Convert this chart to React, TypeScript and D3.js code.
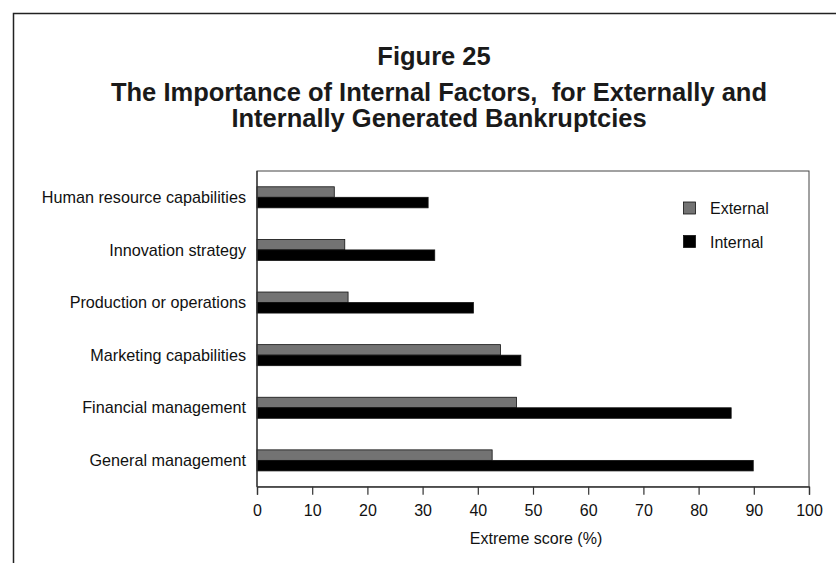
import React, { useEffect, useRef } from "react";
import * as d3 from "d3";

const categories = [
  "Human resource capabilities",
  "Innovation strategy",
  "Production or operations",
  "Marketing capabilities",
  "Financial management",
  "General management",
];
const externalValues = [14.0, 15.9, 16.5, 44.1, 47.0, 42.6];
const internalValues = [31.0, 32.2, 39.2, 47.8, 85.9, 89.9];
const seriesNames = ["External", "Internal"];
const seriesColors = ["#737373", "#000000"];
const xTicks = [0, 10, 20, 30, 40, 50, 60, 70, 80, 90, 100];
const figureLabel = "Figure 25";
const titleLines = [
  "The Importance of Internal Factors,  for Externally and",
  "Internally Generated Bankruptcies",
];
const xAxisTitle = "Extreme score (%)";

const W = 836;
const H = 563;
const SANS = "'Liberation Sans', Arial, sans-serif";

export default function App() {
  const ref = useRef<SVGSVGElement | null>(null);

  useEffect(() => {
    document.body.style.margin = "0";
    const svg = d3.select(ref.current);
    svg.selectAll("*").remove();

    const plot = { left: 257, right: 809, top: 171, bottom: 486.7 };

    // Outer frame
    svg.append("path")
      .attr("d", `M13.5,${H + 2} L13.5,13.5 L${W + 2},13.5`)
      .attr("fill", "none")
      .attr("stroke", "#222")
      .attr("stroke-width", 1.5);

    // Titles
    svg.append("text")
      .attr("x", 434).attr("y", 65)
      .attr("text-anchor", "middle")
      .attr("font-family", SANS).attr("font-weight", "bold")
      .attr("font-size", 25.5).attr("fill", "#1a1a1a")
      .text(figureLabel);
    titleLines.forEach((t, i) => {
      svg.append("text")
        .attr("x", 439).attr("y", 100.5 + i * 26)
        .attr("text-anchor", "middle")
        .attr("xml:space", "preserve")
        .style("white-space", "pre")
        .attr("font-family", SANS).attr("font-weight", "bold")
        .attr("font-size", 25.5).attr("fill", "#1a1a1a")
        .text(t);
    });

    const x = d3.scaleLinear().domain([0, 100]).range([plot.left, plot.right]);
    const y = d3.scaleBand<string>()
      .domain(categories)
      .range([plot.top, plot.bottom])
      .paddingInner(0.6)
      .paddingOuter(0.3);
    const ys = d3.scaleBand<string>().domain(seriesNames).range([0, y.bandwidth()]);

    // Plot box
    svg.append("rect")
      .attr("x", plot.left).attr("y", plot.top)
      .attr("width", plot.right - plot.left).attr("height", plot.bottom - plot.top)
      .attr("fill", "none").attr("stroke", "#444").attr("stroke-width", 1);

    // Bars
    const data = categories.map((c, i) => ({ c, vals: [externalValues[i], internalValues[i]] }));
    const g = svg.append("g");
    data.forEach((d) => {
      d.vals.forEach((v, si) => {
        g.append("rect")
          .attr("x", x(0))
          .attr("y", (y(d.c) as number) + (ys(seriesNames[si]) as number))
          .attr("width", x(v) - x(0))
          .attr("height", ys.bandwidth())
          .attr("fill", seriesColors[si])
          .attr("stroke", "#111")
          .attr("stroke-width", 0.8);
      });
    });

    // Y-axis line
    svg.append("line")
      .attr("x1", plot.left).attr("x2", plot.left)
      .attr("y1", plot.top).attr("y2", plot.bottom)
      .attr("stroke", "#333").attr("stroke-width", 1.3);

    // Category labels
    categories.forEach((c) => {
      svg.append("text")
        .attr("x", plot.left - 11)
        .attr("y", (y(c) as number) + y.bandwidth() / 2)
        .attr("dy", "0.35em")
        .attr("text-anchor", "end")
        .attr("font-family", SANS)
        .attr("font-size", 16.2)
        .attr("fill", "#111")
        .text(c);
    });

    // X axis
    const xAxis = d3.axisBottom(x).tickValues(xTicks).tickSize(8).tickPadding(10).tickFormat(d3.format("d"));
    const ax = svg.append("g").attr("transform", `translate(0,${plot.bottom})`).call(xAxis);
    ax.select(".domain").attr("stroke", "#333").attr("stroke-width", 1.3);
    ax.selectAll(".tick line").attr("stroke", "#333").attr("stroke-width", 1.2);
    ax.selectAll(".tick text")
      .attr("font-family", SANS).attr("font-size", 16).attr("fill", "#111");

    svg.append("text")
      .attr("x", 536).attr("y", 544)
      .attr("text-anchor", "middle")
      .attr("font-family", SANS).attr("font-size", 16).attr("fill", "#111")
      .text(xAxisTitle);

    // Legend
    seriesNames.forEach((s, i) => {
      const ly = 202 + i * 33.5;
      svg.append("rect")
        .attr("x", 683.5).attr("y", ly)
        .attr("width", 12).attr("height", 12)
        .attr("fill", seriesColors[i]).attr("stroke", "#111").attr("stroke-width", 0.8);
      svg.append("text")
        .attr("x", 710).attr("y", ly + 6.5).attr("dy", "0.35em")
        .attr("font-family", SANS).attr("font-size", 16).attr("fill", "#111")
        .text(s);
    });
  }, []);

  return <svg ref={ref} width={W} height={H} style={{ display: "block" }} />;
}
